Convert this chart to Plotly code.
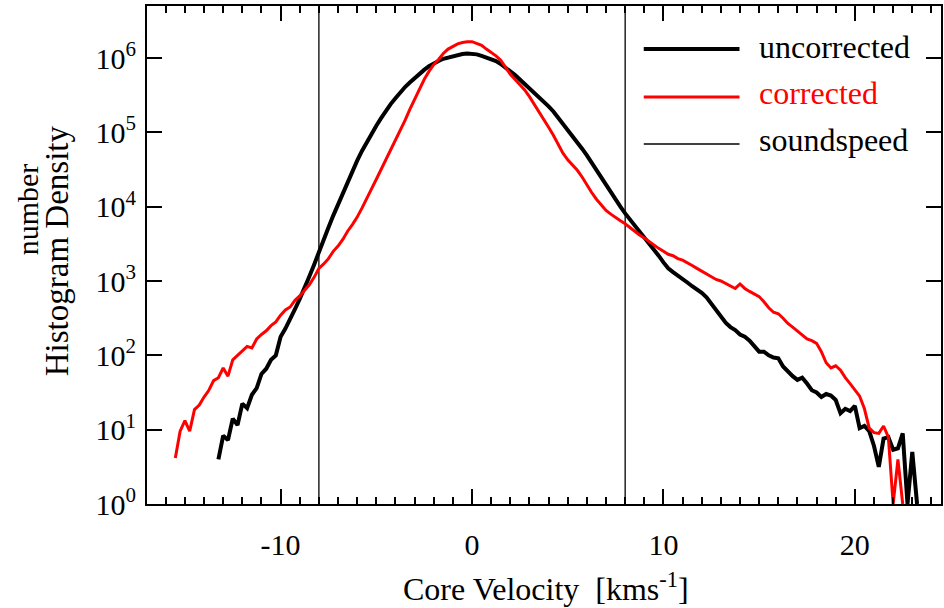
import plotly.graph_objects as go

# ---------------- data ----------------
bin_width = 0.25  # km/s histogram bin width

uncorrected_start = -13.25
uncorrected = [
    3.98, 8.32, 7.24, 14.1, 11.5, 22.4, 19.5, 29.5, 36.3, 56.2, 66.1, 87.1, 100,
    178, 229, 302, 417, 575, 794, 1150, 1660,
    2510, 3630, 5250, 7590,
    1.07e4, 1.55e4, 2.24e4, 3.09e4,
    4.17e4, 5.62e4, 7.41e4, 9.55e4,
    1.23e5, 1.55e5, 1.95e5, 2.40e5,
    2.88e5, 3.47e5, 4.07e5, 4.68e5,
    5.37e5, 6.17e5, 6.92e5, 7.76e5,
    8.51e5, 9.12e5, 9.77e5, 1.02e6,
    1.07e6, 1.11e6, 1.135e6, 1.15e6,
    1.15e6, 1.12e6, 1.07e6, 1.02e6,
    9.77e5, 9.12e5, 8.32e5, 7.41e5,
    6.76e5, 5.89e5, 5.13e5, 4.47e5,
    3.89e5, 3.47e5, 3.02e5, 2.63e5,
    2.24e5, 1.91e5, 1.58e5, 1.32e5,
    1.10e5, 9.12e4, 7.41e4, 6.03e4,
    4.90e4, 3.89e4, 3.02e4, 2.40e4,
    1.91e4, 1.51e4, 1.23e4, 1.00e4,
    8130, 6760, 5620, 4680,
    3890, 3240, 2750, 2190,
    1780, 1480, 1320, 1170,
    1070, 955, 851, 776,
    692, 603, 501, 398,
    331, 275, 240, 219,
    191, 178, 158, 132,
    112, 112, 100, 93.3,
    91.2, 70.8, 60.3, 52.5,
    46.8, 50.1, 41.7, 33.9,
    31.6, 27.5, 30.2, 28.8,
    25.1, 16.6, 19.1, 17.8,
    20.9, 10.5, 11.2, 9.55,
    6.03, 3.16, 7.59, 7.94,
    5.37, 5.62, 8.91, 1.0,
    5.01, 1.0,
]

corrected_start = -15.5
corrected = [
    4.17, 9.55, 13.2, 9.55, 18.6, 21.4, 27.5, 33.9, 45.7, 50.1, 67.6, 52.5, 87.1,
    100, 115, 132, 126, 166, 191, 214, 251, 282,
    347, 407, 447, 550,
    631, 759, 891, 1120,
    1480, 1700, 2000, 2510,
    2950, 3630, 4680, 5750,
    7240, 9550, 1.26e4, 1.74e4,
    2.34e4, 3.16e4, 4.27e4, 5.75e4,
    7.76e4, 1.05e5, 1.45e5, 2.04e5,
    2.82e5, 3.89e5, 5.13e5, 6.61e5,
    8.13e5, 9.55e5, 1.15e6, 1.32e6,
    1.45e6, 1.55e6, 1.62e6, 1.66e6,
    1.66e6, 1.58e6, 1.48e6, 1.32e6,
    1.20e6, 1.07e6, 9.33e5, 7.59e5,
    6.03e5, 5.13e5, 4.37e5, 3.72e5,
    3.02e5, 2.40e5, 1.91e5, 1.48e5,
    1.17e5, 9.12e4, 6.92e4, 5.25e4,
    4.27e4, 3.63e4, 3.09e4, 2.51e4,
    1.95e4, 1.55e4, 1.26e4, 1.05e4,
    8910, 7940, 7080, 6460,
    5890, 5250, 4570, 4170,
    3800, 3390, 3020, 2750,
    2510, 2290, 2190, 2000,
    1910, 1780, 1620, 1480,
    1350, 1260, 1150, 1050,
    1000, 933, 871, 794,
    912, 794, 724, 676,
    617, 525, 437, 380,
    363, 316, 269, 240,
    214, 186, 166, 158,
    145, 112, 79.4, 67.6,
    72.4, 63.1, 50.1, 41.7,
    33.9, 28.2, 19.1, 10.5,
    9.12, 8.91, 11.2, 7.94,
    1.0, 3.98, 1.0,
]

soundspeed = 8.0  # km/s

y_tickvals = [1, 10, 100, 1e3, 1e4, 1e5, 1e6]
y_ticktext = ["10<sup>%d</sup>" % i for i in range(7)]
x_tickvals = [-10, 0, 10, 20]

series_names = ["uncorrected", "corrected", "soundspeed"]

# ---------------- figure ----------------
W, H = 944, 608
L, R, T, B = 147, 1, 6, 104
PW, PH = W - L - R, H - T - B

def px_x(px):
    return (px - L) / PW

def px_y(py):
    return (H - B - py) / PH

FONT = "Liberation Serif"

x_unc = [uncorrected_start + i * bin_width for i in range(len(uncorrected))]
x_cor = [corrected_start + i * bin_width for i in range(len(corrected))]

fig = go.Figure()
fig.add_trace(go.Scatter(
    x=x_unc, y=uncorrected, mode="lines", line=dict(color="black", width=4),
    name="uncorrected", showlegend=False))
fig.add_trace(go.Scatter(
    x=x_cor, y=corrected, mode="lines", line=dict(color="#ff0000", width=3),
    name="corrected", showlegend=False))

shapes = []
for v in (-soundspeed, soundspeed):
    shapes.append(dict(type="line", xref="x", yref="paper", x0=v, x1=v, y0=0, y1=1,
                       line=dict(color="black", width=1.3), layer="below"))

# custom legend
leg_rows = [(49, 47, "black", 4), (97, 93, "#ff0000", 3), (144, 140, "black", 1.3)]
annotations = []
for (ly, ty, col, w), name in zip(leg_rows, series_names):
    shapes.append(dict(type="line", xref="paper", yref="paper",
                       x0=px_x(645), x1=px_x(741), y0=px_y(ly), y1=px_y(ly),
                       line=dict(color=col, width=w)))
    annotations.append(dict(xref="paper", yref="paper", x=px_x(759), y=px_y(ty),
                            text=name, showarrow=False, xanchor="left", yanchor="middle",
                            font=dict(family=FONT, size=32,
                                      color=("#ff0000" if name == "corrected" else "black"))))

# axis titles
annotations.append(dict(xref="paper", yref="paper", x=px_x(547), y=px_y(587),
                        text="Core Velocity  [kms<sup>-1</sup>]", showarrow=False,
                        xanchor="center", yanchor="middle",
                        font=dict(family=FONT, size=32, color="black")))
annotations.append(dict(xref="paper", yref="paper", x=px_x(28), y=px_y(209),
                        text="number", showarrow=False, textangle=-90,
                        xanchor="center", yanchor="middle",
                        font=dict(family=FONT, size=30, color="black")))
annotations.append(dict(xref="paper", yref="paper", x=px_x(57), y=px_y(251),
                        text="Histogram Density", showarrow=False, textangle=-90,
                        xanchor="center", yanchor="middle",
                        font=dict(family=FONT, size=33, color="black")))

fig.update_layout(
    width=W, height=H,
    margin=dict(l=L, r=R, t=T, b=B),
    paper_bgcolor="white", plot_bgcolor="white",
    shapes=shapes, annotations=annotations,
    font=dict(family=FONT, color="black"),
    hovermode=False,
)
fig.update_xaxes(
    range=[-16.98, 24.5], tickvals=x_tickvals, ticktext=[str(v) for v in x_tickvals],
    ticks="inside", ticklen=15, tickwidth=2, tickcolor="black",
    minor=dict(ticks="inside", dtick=1, tick0=0, ticklen=7, tickwidth=1.5, tickcolor="black"),
    showline=True, linewidth=2, linecolor="black", mirror="ticks",
    showgrid=False, zeroline=False,
    tickfont=dict(family=FONT, size=30, color="black"), ticklabelstandoff=13,
)
fig.update_yaxes(
    type="log", range=[0, 6.7], tickvals=y_tickvals, ticktext=y_ticktext,
    ticks="inside", ticklen=15, tickwidth=2, tickcolor="black",
    showline=True, linewidth=2, linecolor="black", mirror="ticks",
    showgrid=False, zeroline=False,
    tickfont=dict(family=FONT, size=30, color="black"), ticklabelstandoff=3,
)

fig.write_html("out.html", config={"displayModeBar": False},
               post_script="document.body.style.margin='0';document.body.style.overflow='hidden';")
